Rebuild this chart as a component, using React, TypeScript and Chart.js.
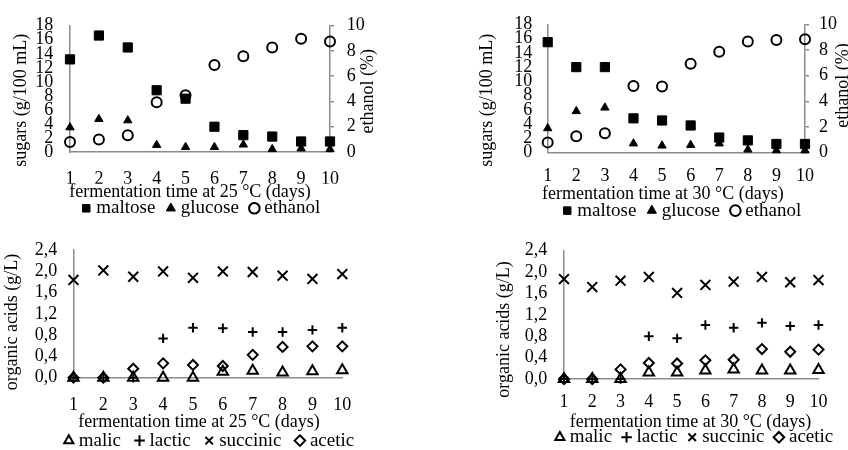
import React, { useEffect, useRef } from 'react';
import { Chart, registerables } from 'chart.js';

Chart.register(...registerables);

// ---------- data ----------
const days = ['1', '2', '3', '4', '5', '6', '7', '8', '9', '10'];

// 25 °C sugars (g/100 mL) and ethanol (%)
const maltose25 = [13.2, 16.6, 14.9, 8.8, 7.6, 3.6, 2.4, 2.2, 1.5, 1.5];
const glucose25 = [3.5, 4.7, 4.5, 1.0, 0.7, 0.7, 1.05, 0.4, 0.5, 0.4];
const ethanol25 = [0.8, 0.99, 1.33, 3.93, 4.5, 6.88, 7.58, 8.28, 8.96, 8.75];

// 30 °C sugars (g/100 mL) and ethanol (%)
const maltose30 = [15.5, 12.0, 12.0, 4.8, 4.5, 3.8, 2.1, 1.7, 1.2, 1.2];
const glucose30 = [3.4, 5.8, 6.3, 1.26, 0.96, 1.05, 1.26, 0.4, 0.3, 0.3];
const ethanol30 = [0.79, 1.27, 1.51, 5.2, 5.15, 6.92, 7.87, 8.67, 8.79, 8.84];

// 25 °C organic acids (g/L)
const malic25 = [0, 0, 0, 0, 0, 0.11, 0.13, 0.1, 0.12, 0.14];
const lactic25 = [0, 0, 0, 0.74, 0.94, 0.93, 0.86, 0.86, 0.9, 0.94];
const succinic25 = [1.84, 2.02, 1.9, 2.0, 1.88, 2.0, 1.99, 1.92, 1.86, 1.95];
const acetic25 = [0, 0, 0.17, 0.27, 0.24, 0.22, 0.43, 0.58, 0.59, 0.59];

// 30 °C organic acids (g/L)
const malic30 = [0, 0, 0, 0.12, 0.12, 0.16, 0.18, 0.16, 0.16, 0.17];
const lactic30 = [0, 0, 0, 0.8, 0.76, 1.01, 0.96, 1.05, 0.99, 1.01];
const succinic30 = [1.87, 1.72, 1.84, 1.91, 1.61, 1.76, 1.82, 1.91, 1.81, 1.85];
const acetic30 = [0, 0, 0.18, 0.3, 0.29, 0.35, 0.36, 0.56, 0.51, 0.55];

// ---------- styles ----------
const FONT = '"Liberation Serif", "Times New Roman", serif';
const GREY = '#8c8c8c';
const BLACK = '#000000';
const NONE = 'rgba(0,0,0,0)';

Chart.defaults.color = BLACK;

const titlePlugin = {
  id: 'axisTitles',
  afterDraw(chart: any, _args: any, opts: any) {
    const items = opts && opts.items;
    if (!items) return;
    const { ctx, chartArea } = chart;
    const cx = (chartArea.left + chartArea.right) / 2;
    const cy = (chartArea.top + chartArea.bottom) / 2;
    ctx.save();
    ctx.fillStyle = BLACK;
    ctx.font = `${opts.size || 18}px ${FONT}`;
    ctx.textAlign = 'center';
    ctx.textBaseline = 'middle';
    for (const it of items) {
      let x = 0, y = 0, rot = 0;
      if (it.side === 'bottom') {
        x = cx + it.shift;
        y = chartArea.bottom + it.dist;
      } else if (it.side === 'left') {
        x = chartArea.left - it.dist;
        y = cy + it.shift;
        rot = -Math.PI / 2;
      } else {
        x = chartArea.right + it.dist;
        y = cy + it.shift;
        rot = -Math.PI / 2;
      }
      ctx.save();
      ctx.translate(x, y);
      ctx.rotate(rot);
      ctx.fillText(it.text, 0, 0);
      ctx.restore();
    }
    ctx.restore();
  },
};

function series(label: string, data: number[], style: string, radius: number, fill: string, bw: number, axis = 'y') {
  return {
    label,
    data,
    yAxisID: axis,
    showLine: false,
    clip: false,
    pointStyle: style,
    pointRadius: radius,
    pointHoverRadius: radius,
    pointBackgroundColor: fill,
    pointBorderColor: BLACK,
    pointBorderWidth: bw,
    backgroundColor: fill,
    borderColor: BLACK,
    borderWidth: bw,
  };
}

const tickFont = { family: FONT, size: 18, lineHeight: 1 };

function makeConfig(p: any) {
  const scales: any = {
    x: {
      type: 'category',
      offset: false,
      grid: { display: false, drawTicks: false },
      border: { display: true, color: GREY, width: 1.5 },
      ticks: { autoSkip: false, maxRotation: 0, padding: p.xTickPad, color: BLACK, font: tickFont },
      afterFit: (s: any) => { s.height = p.xHeight; },
    },
    y: {
      type: 'linear',
      position: 'left',
      min: 0,
      max: p.yMax,
      grid: { display: false, drawTicks: false },
      border: { display: true, color: GREY, width: 1.5 },
      ticks: {
        stepSize: p.yStep,
        autoSkip: false,
        padding: p.yTickPad,
        color: BLACK,
        font: tickFont,
        callback: p.yFormat,
      },
      afterFit: (s: any) => { s.width = p.yWidth; },
    },
  };
  if (p.y1) {
    scales.y1 = {
      type: 'linear',
      position: 'right',
      min: 0,
      max: p.y1.max,
      grid: { display: true, drawOnChartArea: false, drawTicks: true, tickLength: 4, color: GREY, lineWidth: 1.5 },
      border: { display: true, color: GREY, width: 1.5 },
      ticks: { stepSize: p.y1.step, autoSkip: false, padding: p.y1.tickPad, color: BLACK, font: tickFont },
      afterFit: (s: any) => { s.width = p.y1.width; },
    };
  } else {
    scales.yR = {
      type: 'linear',
      position: 'right',
      display: true,
      grid: { display: false, drawTicks: false },
      border: { display: false },
      ticks: { display: false },
      afterFit: (s: any) => { s.width = p.rightWidth; },
    };
  }
  return {
    type: 'line',
    data: { labels: days, datasets: p.datasets },
    options: {
      responsive: false,
      animation: false,
      events: [],
      layout: { padding: p.padding },
      scales,
      plugins: {
        tooltip: { enabled: false },
        legend: {
          display: true,
          position: 'bottom',
          align: 'center',
          labels: {
            usePointStyle: true,
            boxWidth: 1,
            boxHeight: 7.5,
            padding: p.legendPad,
            color: BLACK,
            font: { family: FONT, size: 19 },
          },
        },
        axisTitles: { size: 18, items: p.titles },
      },
    },
    plugins: [titlePlugin],
  };
}

const sugarFmt = (v: any) => String(v);
const acidFmt = (v: any) => Number(v).toFixed(1).replace('.', ',');

const sugarSets = (m: number[], g: number[], e: number[]) => [
  series('maltose', m, 'rect', 6.5, BLACK, 1),
  series('glucose', g, 'triangle', 4.8, BLACK, 1),
  series('ethanol', e, 'circle', 5, NONE, 2, 'y1'),
];

const acidSets = (ma: number[], la: number[], su: number[], ac: number[]) => [
  series('malic', ma, 'triangle', 6, NONE, 2),
  series('lactic', la, 'cross', 4.7, NONE, 2),
  series('succinic', su, 'crossRot', 7, NONE, 2),
  series('acetic', ac, 'rectRot', 5, NONE, 2),
];

const panels = [
  {
    left: 0, top: 0,
    datasets: sugarSets(maltose25, glucose25, ethanol25),
    padding: { top: 24, left: 0, right: 18, bottom: -2.8 },
    yWidth: 70, yMax: 18, yStep: 2, yTickPad: 16.7, yFormat: sugarFmt,
    y1: { max: 10, step: 2, tickPad: 12.7, width: 76 },
    xHeight: 31.8, xTickPad: 18, legendPad: 15,
    titles: [
      { side: 'left', text: 'sugars (g/100 mL)', dist: 48.7, shift: 11.5 },
      { side: 'right', text: 'ethanol (%)', dist: 38, shift: 2.5 },
      { side: 'bottom', text: 'fermentation time at 25 °C (days)', dist: 40.6, shift: -10 },
    ],
  },
  {
    left: 424, top: 0,
    datasets: sugarSets(maltose30, glucose30, ethanol30),
    padding: { top: 15, left: 40, right: -56, bottom: -5.1 },
    yWidth: 83.7, yMax: 18, yStep: 2, yTickPad: 15.4, yFormat: sugarFmt,
    y1: { max: 10, step: 2, tickPad: 10, width: 99 },
    xHeight: 33.6, xTickPad: 15.1, legendPad: 15,
    titles: [
      { side: 'left', text: 'sugars (g/100 mL)', dist: 60.7, shift: 11.75 },
      { side: 'right', text: 'ethanol (%)', dist: 38, shift: -3 },
      { side: 'bottom', text: 'fermentation time at 30 °C (days)', dist: 41.5, shift: -13.5 },
    ],
  },
  {
    left: 0, top: 225,
    datasets: acidSets(malic25, lactic25, succinic25, acetic25),
    padding: { top: 16.7, left: 0, right: 1.5, bottom: -10.1 },
    yWidth: 73.5, yMax: 2.4, yStep: 0.4, yTickPad: 16.2, yFormat: acidFmt,
    rightWidth: 80.2,
    xHeight: 35.4, xTickPad: 18.2, legendPad: 18,
    titles: [
      { side: 'left', text: 'organic acids (g/L)', dist: 61.5, shift: 8 },
      { side: 'bottom', text: 'fermentation time at 25 °C (days)', dist: 44.9, shift: -8.9 },
    ],
  },
  {
    left: 424, top: 225,
    datasets: acidSets(malic30, lactic30, succinic30, acetic30),
    padding: { top: 22.7, left: 60, right: -60.6, bottom: -6.8 },
    yWidth: 80, yMax: 2.4, yStep: 0.4, yTickPad: 16.7, yFormat: acidFmt,
    rightWidth: 90.1,
    xHeight: 34.8, xTickPad: 14.6, legendPad: 14,
    titles: [
      { side: 'left', text: 'organic acids (g/L)', dist: 59.3, shift: 14.6 },
      { side: 'bottom', text: 'fermentation time at 30 °C (days)', dist: 43.6, shift: -0.75 },
    ],
  },
];

function Panel({ p }: { p: any }) {
  const ref = useRef<HTMLCanvasElement>(null);
  useEffect(() => {
    if (!ref.current) return;
    const chart = new Chart(ref.current, makeConfig(p) as any);
    return () => chart.destroy();
  }, []);
  return (
    <canvas
      ref={ref}
      width={424}
      height={225}
      style={{ position: 'absolute', left: p.left, top: p.top, width: 424, height: 225 }}
    />
  );
}

export default function App() {
  return (
    <div style={{ position: 'absolute', left: 0, top: 0, width: 848, height: 450, background: '#ffffff', overflow: 'hidden' }}>
      {panels.map((p, i) => (
        <Panel key={i} p={p} />
      ))}
    </div>
  );
}
